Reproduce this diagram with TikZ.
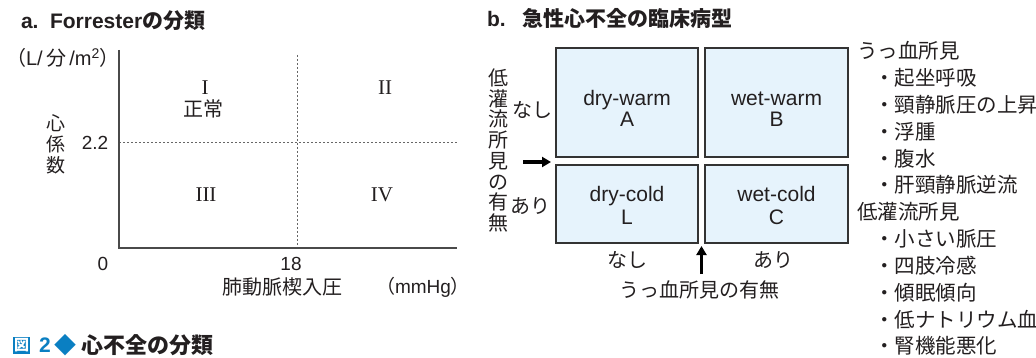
\documentclass[tikz,border=0pt]{standalone}
\usepackage{fontspec}
\setmainfont{Liberation Sans}
\newfontfamily\jp{Noto Sans CJK JP}
\newfontfamily\rmn{Liberation Serif}
\usetikzlibrary{arrows.meta}
\definecolor{ink}{HTML}{231F20}
\definecolor{boxfill}{HTML}{E6F3FC}
\definecolor{cellline}{HTML}{333333}
\definecolor{figblue}{HTML}{0A7FC2}
\definecolor{axisgray}{HTML}{4A4A4A}
\definecolor{guidegray}{HTML}{666666}
\begin{document}
\begin{tikzpicture}[x=1pt,y=-1pt,
  every node/.style={inner sep=0pt,outer sep=0pt,text=ink},
  ttl/.style={font=\bfseries\fontsize{21}{21}\selectfont, anchor=base west},
  jtxt/.style={font=\jp\fontsize{20}{20}\selectfont},
  ltxt/.style={font=\fontsize{19}{19}\selectfont},
  roman/.style={font=\rmn\fontsize{21}{21}\selectfont},
  cell/.style={draw=cellline, fill=boxfill, line width=1.1pt},
  celltxt/.style={font=\fontsize{21}{21}\selectfont, anchor=base},
  lst/.style={font=\jp\fontsize{20.5}{20.5}\selectfont, anchor=base west},
  axis/.style={draw=axisgray, line width=1.3pt},
  guide/.style={draw=guidegray, line width=1pt, dash pattern=on 2pt off 2pt},
  fatarrow/.style={-{Triangle[length=9pt,width=10pt]}, line width=3.5pt, draw=black}
]
\clip (0,0) rectangle (1036,358);
\fill[white] (0,0) rectangle (1036,358);

% ---------- panel a ----------
\node[ttl] (ta1) at (21,29) {a.};
\node[ttl] (ta2) at (50,29) {Forrester{\jp\bfseries の分類}};

\coordinate (org) at (119,248);
\coordinate (ytop) at (119,50);
\coordinate (xend) at (457,248);
\coordinate (vd0) at (297,55);
\coordinate (vd1) at (297,248);
\coordinate (hd0) at (119,143);
\coordinate (hd1) at (457,143);
\draw[guide] (vd0) -- (vd1);
\draw[guide] (hd0) -- (hd1);
\draw[axis] (ytop) -- (org) -- (xend);

\node[font=\fontsize{20}{20}\selectfont] (unit) at (63,58) {{\jp （}L/\,{\jp 分}\,/m\textsuperscript{2}{\jp ）}};
\node[jtxt, align=center, font=\jp\fontsize{19}{21}\selectfont] (ci) at (56,144) {心\\係\\数};
\node[ltxt] (v22) at (95,143) {2.2};
\node[ltxt] (v0) at (103,264) {0};
\node[ltxt] (v18) at (291,264) {18};
\node[jtxt] (pcwp) at (282,287) {肺動脈楔入圧};
\node[ltxt] (mmhg) at (423,287) {{\jp （}mmHg{\jp ）}};

\node[roman] (q1) at (205,88) {I};
\node[jtxt] (norm) at (203,109) {正常};
\node[roman] (q2) at (385,88) {II};
\node[roman] (q3) at (206,195) {III};
\node[roman] (q4) at (382,195) {IV};

% caption
\node[fill=figblue, text=white, minimum size=17pt, font=\jp\bfseries\fontsize{15}{15}\selectfont] (zu) at (21.5,345) {図};
\node[text=figblue, font=\bfseries\fontsize{21}{21}\selectfont] (zu2) at (45,345) {2};
\node[text=figblue, font=\jp\fontsize{22}{22}\selectfont] (dia) at (65.5,345) {◆};
\node[font=\jp\bfseries\fontsize{22}{22}\selectfont, anchor=west] (cap) at (81,345) {心不全の分類};

% ---------- panel b ----------
\node[ttl] (tb1) at (487,27) {b.};
\node[ttl, font=\jp\bfseries\fontsize{21}{21}\selectfont] (tb2) at (522,27) {急性心不全の臨床病型};

\node[cell, minimum width=142pt, minimum height=109pt] (bA) at (627,102.5) {};
\node[cell, minimum width=143pt, minimum height=109pt] (bB) at (776.5,102.5) {};
\node[cell, minimum width=142pt, minimum height=78pt] (bL) at (627,204) {};
\node[cell, minimum width=143pt, minimum height=78pt] (bC) at (776.5,204) {};

\node[celltxt] (tA1) at (627,106) {dry-warm};
\node[celltxt] (tA2) at (627,127) {A};
\node[celltxt] (tB1) at (776.5,106) {wet-warm};
\node[celltxt] (tB2) at (776.5,127) {B};
\node[celltxt] (tL1) at (627,202) {dry-cold};
\node[celltxt] (tL2) at (627,225) {L};
\node[celltxt] (tC1) at (776.5,202) {wet-cold};
\node[celltxt] (tC2) at (776.5,225) {C};

\node[align=center, font=\jp\fontsize{20}{20.7}\selectfont] (hypo) at (498,150.5) {低\\灌\\流\\所\\見\\の\\有\\無};
\node[jtxt] (rn) at (532,110) {なし};
\node[jtxt] (ra) at (530,206) {あり};
\node[jtxt] (cn) at (627,260) {なし};
\node[jtxt] (ca) at (773,260) {あり};
\node[jtxt] (cong) at (699,290) {うっ血所見の有無};

\coordinate (la0) at (523,162);
\coordinate (la1) at (551,162);
\draw[fatarrow] (la0) -- (la1);
\coordinate (ua0) at (701.5,274);
\coordinate (ua1) at (701.5,246);
\draw[fatarrow] (ua0) -- (ua1);

% list
\node[lst] (l0) at (857,59) {うっ血所見};
\node[lst] (l1) at (874,85.8) {・起坐呼吸};
\node[lst] (l2) at (874,112.6) {・頸静脈圧の上昇};
\node[lst] (l3) at (874,139.4) {・浮腫};
\node[lst] (l4) at (874,166.2) {・腹水};
\node[lst] (l5) at (874,193) {・肝頸静脈逆流};
\node[lst] (l6) at (857,219.8) {低灌流所見};
\node[lst] (l7) at (874,246.6) {・小さい脈圧};
\node[lst] (l8) at (874,273.4) {・四肢冷感};
\node[lst] (l9) at (874,300.2) {・傾眠傾向};
\node[lst] (l10) at (874,327) {・低ナトリウム血症};
\node[lst] (l11) at (874,353.8) {・腎機能悪化};
\end{tikzpicture}
\end{document}
